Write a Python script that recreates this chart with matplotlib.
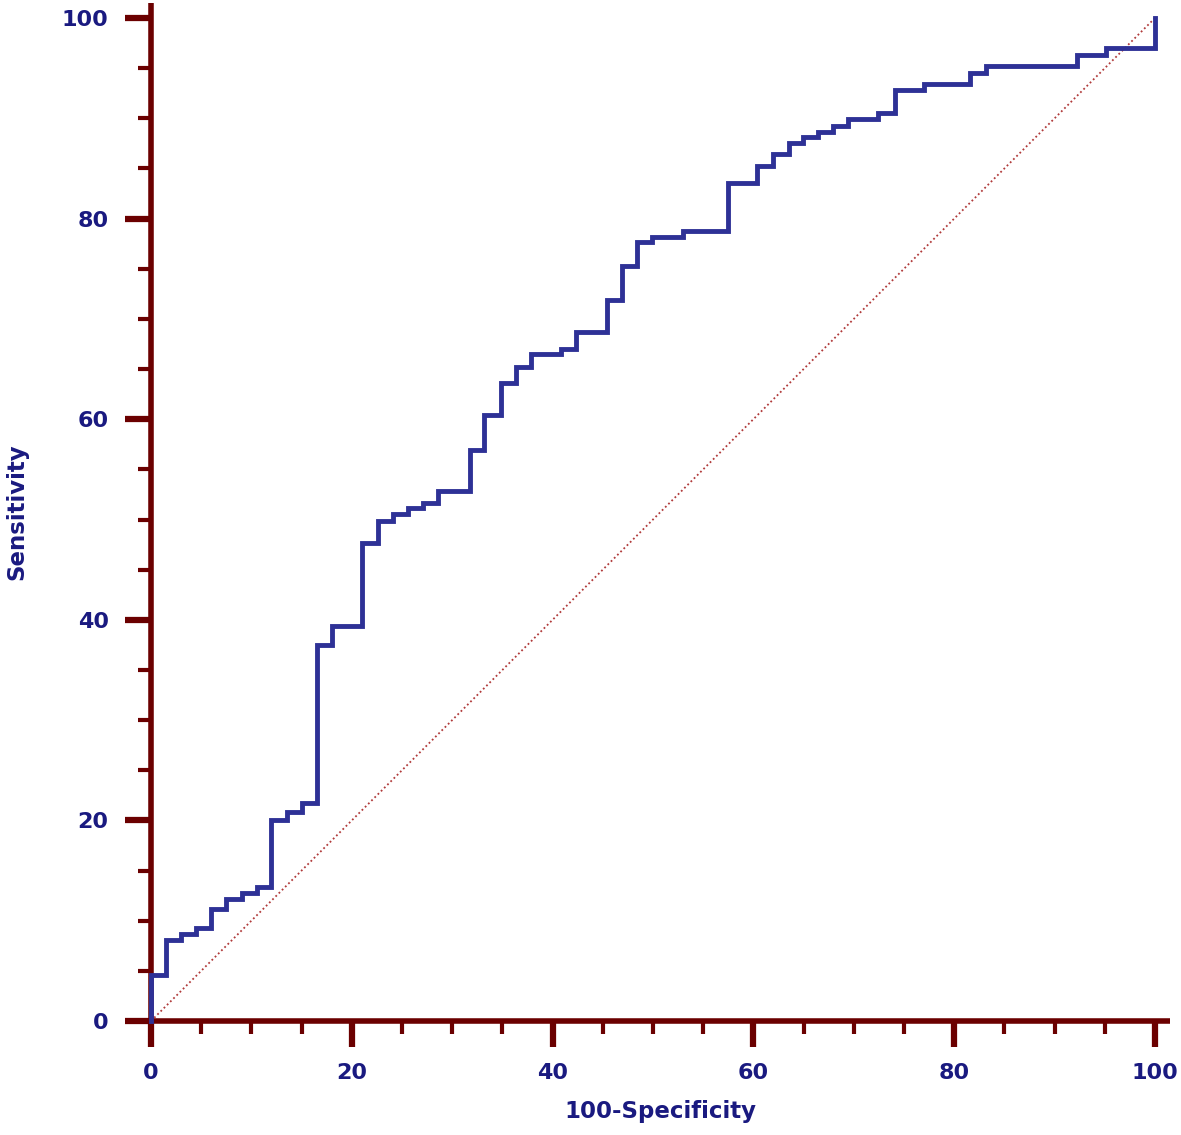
import matplotlib
matplotlib.use("Agg")
import matplotlib.pyplot as plt
from matplotlib.ticker import MultipleLocator

# ROC curve: at each fpr value the sensitivity jumps up to tpr
fpr = [0, 1.5, 3.0, 4.5, 6.0, 7.5, 9.1, 10.6, 12.0, 13.5, 15.0, 16.5, 18.0, 21.0,
       22.6, 24.1, 25.6, 27.1, 28.6, 31.8, 33.2, 34.9, 36.4, 37.8, 40.8, 42.3,
       45.4, 46.9, 48.4, 49.9, 53.0, 57.5, 60.4, 62.0, 63.5, 64.9, 66.4, 67.9,
       69.4, 72.4, 74.1, 77.0, 81.6, 83.2, 92.2, 95.1, 100]
tpr = [4.6, 8.1, 8.7, 9.3, 11.2, 12.2, 12.8, 13.4, 20.0, 20.8, 21.7, 37.5, 39.4,
       47.7, 49.9, 50.5, 51.1, 51.6, 52.8, 56.9, 60.4, 63.6, 65.2, 66.5, 67.0,
       68.7, 71.9, 75.3, 77.7, 78.2, 78.8, 83.5, 85.2, 86.4, 87.5, 88.1, 88.6,
       89.2, 89.9, 90.5, 92.8, 93.4, 94.5, 95.2, 96.3, 97.0, 100]
diag = [0, 100]

curve_col = "#2e3196"
axis_col = "#6b0000"
text_col = "#1a1a80"

W, H = 1181, 1135
fig = plt.figure(figsize=(W/100, H/100), dpi=100)
# axes placed so that 0..100 sits on the same pixels as the reference
x0, y0 = 151, 1021
ppu_x, ppu_y = 10.04, 10.03
xmax, ymax = 101.5, 101.5
ax = fig.add_axes([x0/W, 1 - y0/H, xmax*ppu_x/W, ymax*ppu_y/H])

ax.plot(diag, diag, ls=(0, (1, 1.5)), color="#b03a3a", lw=1.3, zorder=2)
ax.step([0] + fpr, [0] + tpr, where="post", color=curve_col, lw=3.5,
        solid_joinstyle="miter", zorder=3, clip_on=False)

ax.set_xlim(0, xmax)
ax.set_ylim(0, ymax)
for s in ["top", "right"]:
    ax.spines[s].set_visible(False)
for s in ["left", "bottom"]:
    ax.spines[s].set_color(axis_col)
    ax.spines[s].set_linewidth(4)
    ax.spines[s].set_capstyle("butt")

ax.xaxis.set_major_locator(MultipleLocator(20))
ax.xaxis.set_minor_locator(MultipleLocator(5))
ax.yaxis.set_major_locator(MultipleLocator(20))
ax.yaxis.set_minor_locator(MultipleLocator(5))
ax.tick_params(which="major", direction="out", length=18.5, width=4.5,
               color=axis_col, pad=12, labelsize=16, labelcolor=text_col)
ax.tick_params(which="minor", direction="out", length=9.5, width=3,
               color=axis_col)
for lab in ax.get_xticklabels() + ax.get_yticklabels():
    lab.set_fontweight("bold")

ax.set_xlabel("100-Specificity", fontsize=16.5, fontweight="bold",
              color=text_col, labelpad=12)
ax.set_ylabel("Sensitivity", fontsize=16.5, fontweight="bold",
              color=text_col, labelpad=24)

fig.savefig("out.png", dpi=100)
